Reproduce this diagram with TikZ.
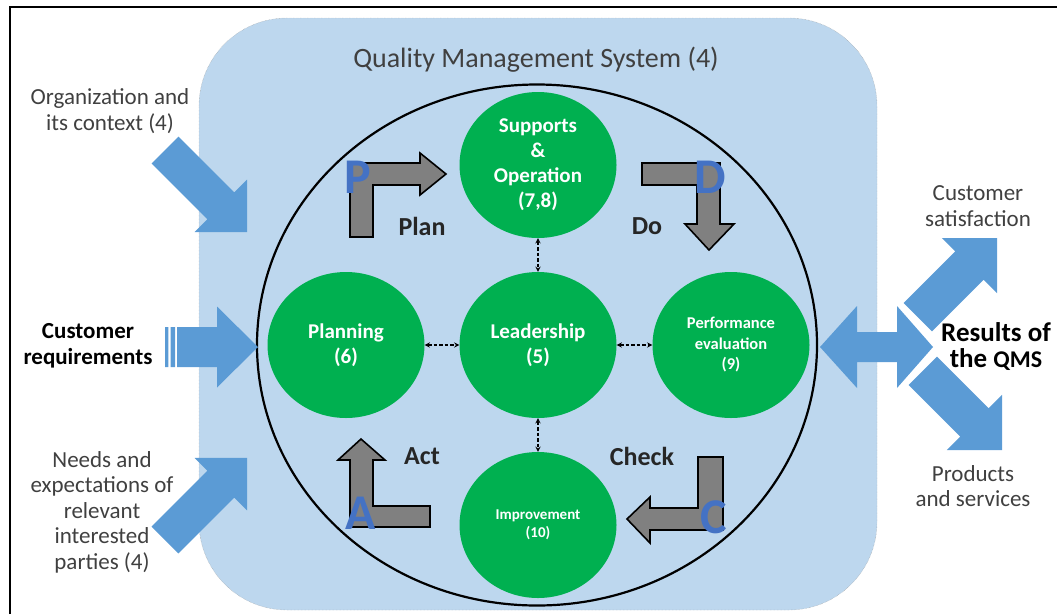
\documentclass[tikz,border=0pt]{standalone}
\usepackage{fontspec}
\setmainfont{Carlito}
\usetikzlibrary{shapes.geometric}

\definecolor{qmsbg}{HTML}{BDD7EE}
\definecolor{qmsgreen}{HTML}{00B050}
\definecolor{qmsblue}{HTML}{5B9BD5}
\definecolor{pdcablue}{HTML}{4472C4}
\definecolor{cyclegray}{HTML}{808080}
\definecolor{txtgray}{HTML}{404040}

% block arrow: tail, angle, length, half shaft, half head, head length
\newcommand{\blockarrow}[6]{%
  \fill[qmsblue, shift={(#1)}, rotate=#2]
    (0,-#4) -- ({#3-#6},-#4) -- ({#3-#6},-#5) -- (#3,0)
    -- ({#3-#6},#5) -- ({#3-#6},#4) -- (0,#4) -- cycle;}

\begin{document}
\begin{tikzpicture}[x=1pt, y=-1pt,
    phase/.style={ellipse, fill=qmsgreen, text=white, align=center, inner sep=0pt,
      minimum width=157pt, minimum height=146pt},
    cyclearrow/.style={fill=cyclegray, draw=black, line width=1.6pt},
    letter/.style={text=pdcablue, font=\fontsize{50}{50}\selectfont\bfseries, inner sep=0pt},
    cyclelabel/.style={font=\fontsize{26}{26}\selectfont\bfseries, text=black!85},
    sidelabel/.style={font=\fontsize{23}{25.5}\selectfont, text=txtgray, align=center},
    link/.style={<->, >=stealth, dash pattern=on 3.5pt off 2pt, line width=1.3pt}]
  \useasboundingbox (0,0) rectangle (1057,614);
  % frame
  \draw[line width=1.5pt] (10,614) -- (10,7) -- (1057,7);
  % system area
  \draw[fill=qmsbg, draw=black!40, densely dotted, rounded corners=88pt] (199,18) rectangle (877,610);
  \node[font=\fontsize{28}{28}\selectfont, text=txtgray] (title) at (536,60) {Quality Management System (4)};
  \node[draw, ellipse, line width=2.2pt, minimum width=560pt, minimum height=521pt] (cycle) at (537,345) {};

  % clauses
  \node[phase, font=\fontsize{21}{25}\selectfont\bfseries] (supp) at (538,165) {Supports\\\&\\Operation\\(7,8)};
  \node[phase, font=\fontsize{21}{25}\selectfont\bfseries] (plan) at (346,345) {Planning\\(6)};
  \node[phase, font=\fontsize{21}{25}\selectfont\bfseries] (lead) at (538,345) {Leadership\\(5)};
  \node[phase, font=\fontsize{16.5}{20.5}\selectfont\bfseries] (perf) at (731,345) {Performance\\evaluation\\(9)};
  \node[phase, font=\fontsize{15}{18}\selectfont\bfseries] (impr) at (538,525) {Improvement\\(10)};
  \foreach \a/\b in {supp/lead, plan/lead, lead/perf, lead/impr}
    \draw[link] (\a) -- (\b);

  % PDCA arrows
  \draw[cyclearrow] (350,237) -- (350,163) -- (420,163) -- (420,153) -- (446,174)
    -- (420,195) -- (420,185) -- (373,185) -- (373,237) -- cycle;
  \draw[cyclearrow] (642,163) -- (720,163) -- (720,224) -- (734,224) -- (709,250)
    -- (685,224) -- (697,224) -- (697,185) -- (642,185) -- cycle;
  \draw[cyclearrow] (698,457) -- (723,457) -- (723,530) -- (650,530) -- (650,543)
    -- (627,519) -- (650,497) -- (650,508) -- (698,508) -- cycle;
  \draw[cyclearrow] (430,506) -- (430,527) -- (350,527) -- (350,460) -- (338,460)
    -- (361,439) -- (385,460) -- (373,460) -- (373,506) -- cycle;
  \node[letter] (letP) at (358,177) {P};
  \node[letter] (letD) at (710,177) {D};
  \node[letter] (letC) at (714,517) {C};
  \node[letter] (letA) at (361,513) {A};
  \node[cyclelabel] (lplan) at (422,226) {Plan};
  \node[cyclelabel] (ldo) at (647,226) {Do};
  \node[cyclelabel] (lact) at (422,456) {Act};
  \node[cyclelabel] (lcheck) at (642,456) {Check};

  % inputs
  \node[sidelabel] (orgctx) at (110,111) {Organization and\\its context (4)};
  \node[sidelabel, text=black, font=\fontsize{23}{25.5}\selectfont\bfseries] (custreq) at (88,346) {Customer\\requirements};
  \node[sidelabel] (needs) at (102,512) {Needs and\\expectations of\\relevant\\interested\\parties (4)};
  \blockarrow{165,150}{-45}{116}{19}{37}{37}
  \blockarrow{165,540}{45}{116}{19}{37}{37}
  \fill[qmsblue] (165,327) rectangle (168.3,367) (170.7,327) rectangle (175,367);
  \blockarrow{177,347}{0}{81}{20}{40.5}{41}

  % outputs
  \fill[qmsblue] (820,347) -- (857,306) -- (857,332) -- (897,332) -- (897,306) -- (933,347)
    -- (897,388) -- (897,362) -- (857,362) -- (857,388) -- cycle;
  \blockarrow{917.8,317.2}{45}{112}{20}{39}{39}
  \blockarrow{922.8,370.8}{-45}{112}{20}{39}{39}
  \node[sidelabel] (custsat) at (978,206) {Customer\\satisfaction};
  \node[sidelabel, text=black, font=\fontsize{27}{26}\selectfont\bfseries] (results) at (996,347) {Results of\\the {\fontsize{24}{24}\selectfont QMS}};
  \node[sidelabel] (products) at (973,486) {Products\\and services};
\end{tikzpicture}
\end{document}
